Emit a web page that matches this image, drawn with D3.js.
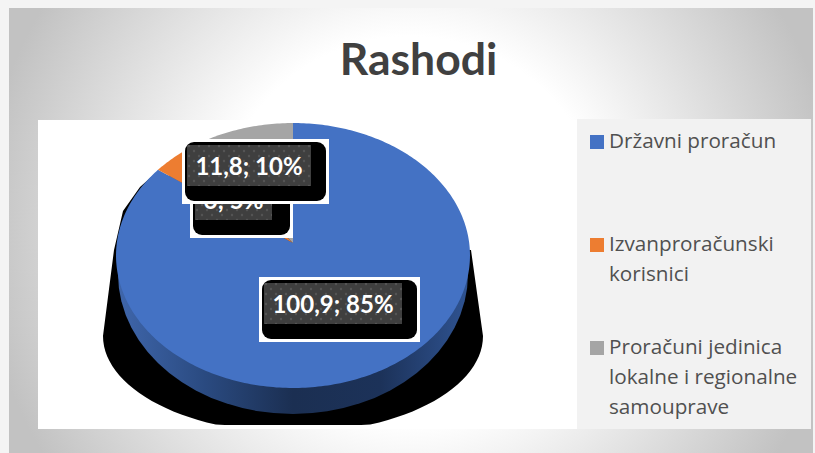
<!DOCTYPE html>
<html lang="hr">

<head>
    <meta charset="utf-8">
    <script src="https://d3js.org/d3.v7.min.js"></script>
    <style>
        html, body { margin: 0; padding: 0; background: #f4f4f4; overflow: hidden; }
        svg { display: block; }
    </style>
</head>

<body>
    <script>
        // Data
        const title = "Rashodi";
        const categories = ["Državni proračun", "Izvanproračunski korisnici", "Proračuni jedinica lokalne i regionalne samouprave"];
        const legendLines = [["Državni proračun"], ["Izvanproračunski", "korisnici"], ["Proračuni jedinica", "lokalne i regionalne", "samouprave"]];
        const values = [100.9, 6, 11.8];
        const percents = [85, 5, 10];
        const colors = ["#4472c4", "#ed7d31", "#a5a5a5"];

        const width = 815, height = 453;
        const svg = d3.select("body").append("svg").attr("width", width).attr("height", height);
        const defs = svg.append("defs");

        // slide background
        const bg = defs.append("radialGradient").attr("id", "bg")
            .attr("gradientUnits", "userSpaceOnUse")
            .attr("cx", 410).attr("cy", 230).attr("r", 430);
        bg.append("stop").attr("offset", 0.45).attr("stop-color", "#ffffff");
        bg.append("stop").attr("offset", 1).attr("stop-color", "#c2c2c2");

        svg.append("rect").attr("x", 9).attr("y", 8).attr("width", 804).attr("height", 445).attr("fill", "url(#bg)");
        svg.append("text").text(title)
            .attr("x", 418.5).attr("y", 75)
            .attr("text-anchor", "middle")
            .attr("font-family", "Lato").attr("font-weight", 700).attr("font-size", 44.5)
            .attr("fill", "#404040");

        // panels
        svg.append("rect").attr("x", 38).attr("y", 120).attr("width", 539).attr("height", 309).attr("fill", "#ffffff");
        svg.append("rect").attr("x", 577).attr("y", 119).attr("width", 234).attr("height", 310).attr("fill", "#f2f2f2");

        // perspective pie: flat circle projected on to the slide
        const cx = 293, cy = 243, rx = 176.2, ry = 131.3, tilt = 0.0943;
        const project = (a, r = 1) => {
            const u = r * Math.sin(a), v = -r * Math.cos(a), w = 1 - tilt * v;
            return [cx + rx * u / w, cy + ry * v / w];
        };
        const line = d3.line();
        const arcPoints = (a0, a1) => {
            const n = Math.max(2, Math.ceil(Math.abs(a1 - a0) * 60));
            return d3.range(n + 1).map(i => project(a0 + (a1 - a0) * i / n));
        };

        // black shadow behind the pie, cut flat at the bottom
        const shadowRx = 190, shadowRy = 97, shadowCy = 336, shadowMaxY = 425;
        const shadowBottom = d3.range(0, 61).map(i => {
            const t = Math.PI - Math.PI * i / 60;
            return [cx + shadowRx * Math.cos(t), Math.min(shadowMaxY, shadowCy + shadowRy * Math.sin(t))];
        });
        const shadowLeft = [[-135, -72], [-153, -56], [-170, -32], [-179, 7]].map(d => [cx + d[0], cy + d[1]]);
        const shadowRight = [[178, 7]].map(d => [cx + d[0], cy + d[1]]);
        svg.append("path")
            .attr("d", line([...shadowLeft, ...shadowBottom, ...shadowRight, [cx, cy]]) + "Z")
            .attr("fill", "#000000");

        // side wall, sits under the top face
        const side = defs.append("linearGradient").attr("id", "side")
            .attr("gradientUnits", "userSpaceOnUse")
            .attr("x1", cx - 175).attr("x2", cx + 175).attr("y1", 0).attr("y2", 0);
        [[0, "#3f66ab"], [0.25, "#2a4a80"], [0.5, "#1b2f52"], [0.75, "#1c3259"], [1, "#2f5391"]].forEach(d => {
            side.append("stop").attr("offset", d[0]).attr("stop-color", d[1]);
        });
        svg.append("ellipse")
            .attr("cx", cx).attr("cy", 274).attr("rx", 175).attr("ry", 140)
            .attr("fill", "url(#side)");

        // slices
        const slices = d3.pie().sort(null)(values);
        svg.append("g").selectAll("path").data(slices).join("path")
            .attr("d", d => line([[cx, cy], ...arcPoints(d.startAngle, d.endAngle)]) + "Z")
            .attr("fill", (d, i) => colors[i]);

        // data labels
        const pattern = defs.append("pattern").attr("id", "dots")
            .attr("patternUnits", "userSpaceOnUse").attr("width", 10).attr("height", 10);
        pattern.append("rect").attr("width", 10).attr("height", 10).attr("fill", "#3f3f3f");
        [[2, 2], [7, 7]].forEach(d => {
            pattern.append("circle").attr("cx", d[0]).attr("cy", d[1]).attr("r", 1.2).attr("fill", "#545454");
        });

        const labelBoxes = [
            { x: 259, y: 277, w: 161, inner: 138 },
            { x: 190, y: 173, w: 103, inner: 77 },
            { x: 182, y: 139, w: 147, inner: 124 }
        ];
        const labelText = i => String(values[i]).replace(".", ",") + "; " + percents[i] + "%";

        // drawn in this order so 11,8 sits over 6
        [1, 0, 2].forEach(i => {
            const b = labelBoxes[i];
            const g = svg.append("g").attr("transform", `translate(${b.x},${b.y})`);
            g.append("rect").attr("width", b.w).attr("height", 65).attr("fill", "#ffffff");
            g.append("rect").attr("x", 3).attr("y", 3).attr("width", b.w - 6).attr("height", 59).attr("rx", 9).attr("fill", "#000000");
            g.append("rect").attr("x", 5).attr("y", 6).attr("width", b.inner).attr("height", 41).attr("fill", "url(#dots)");
            g.append("text").text(labelText(i))
                .attr("x", 5 + b.inner / 2).attr("y", 36)
                .attr("text-anchor", "middle")
                .attr("font-family", "Lato").attr("font-weight", 700).attr("font-size", 24)
                .attr("fill", "#ffffff");
        });

        // legend
        const legendY = [135, 238, 341];
        const legend = svg.append("g").selectAll("g").data(categories).join("g")
            .attr("transform", (d, i) => `translate(590,${legendY[i]})`);
        legend.append("rect").attr("width", 14).attr("height", 14).attr("fill", (d, i) => colors[i]);
        legend.each(function (d, i) {
            d3.select(this).selectAll("text").data(legendLines[i]).join("text")
                .text(t => t)
                .attr("x", 19).attr("y", (t, j) => 13 + j * 30)
                .attr("font-family", "Open Sans").attr("font-size", 20.7)
                .attr("fill", "#505050");
        });
    </script>
</body>

</html>
